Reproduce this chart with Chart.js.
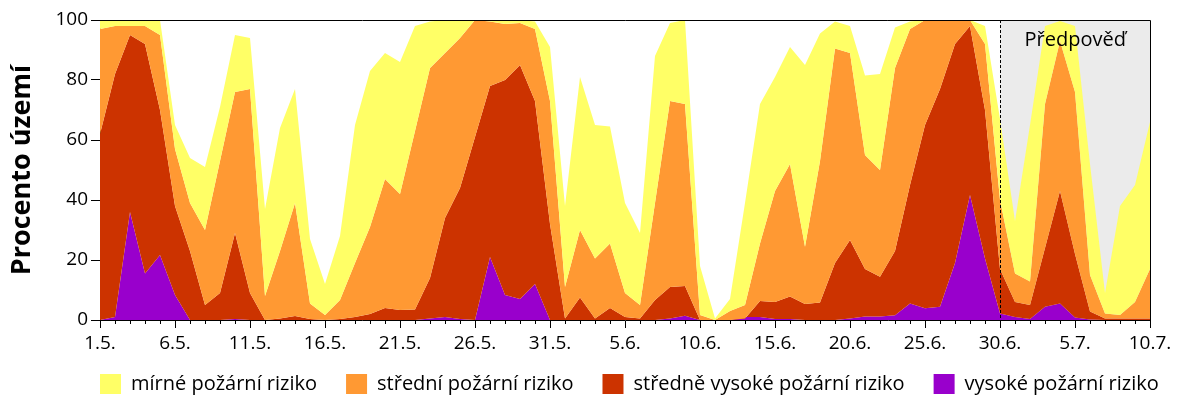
<!DOCTYPE html>
<html>
<head>
<meta charset="utf-8">
<script src="https://cdn.jsdelivr.net/npm/chart.js@4/dist/chart.umd.min.js"></script>
<style>
  html, body { margin: 0; padding: 0; background: #fff; }
  #wrap { width: 1200px; height: 400px; }
</style>
</head>
<body>
<div id="wrap"><canvas id="riziko"></canvas></div>
<script>
// x axis: days from 1.5. (index 0) to 10.7. (index 70)
const tickLabels = ["1.5.", "6.5.", "11.5.", "16.5.", "21.5.", "26.5.", "31.5.", "5.6.", "10.6.", "15.6.", "20.6.", "25.6.", "30.6.", "5.7.", "10.7."];
const forecastStart = 60; // 30.6.

// upper edge of each band (cumulative percent of territory), one value per day
const mirneTop = [100, 100, 100, 100, 100, 65, 54, 51, 71, 95, 94, 37, 64, 77, 27, 12, 28, 65, 83, 89,
  86, 98, 99.5, 100, 100, 100, 100, 100, 100, 99.5, 91, 38, 81, 65, 64.5, 39, 29, 88, 99, 100,
  18, 0.5, 7, 39, 72, 81, 91, 85, 95.5, 99.5, 98, 81.5, 82, 97.5, 99.5, 100, 100, 100, 100, 98,
  67, 33, 65, 98, 99.7, 98, 52, 9, 38, 45, 66];
const stredniTop = [97, 98, 98, 98, 95, 57, 39, 30, 53, 76, 77, 8, 23, 39, 5.5, 1.7, 6.7, 19, 31, 47,
  42, 63, 84, 89, 94, 100, 99.5, 98.7, 99, 97, 73, 11, 30, 20.5, 25.5, 9, 5, 39, 73, 72,
  1.7, 0, 3, 5, 25.5, 43, 52, 24.4, 53, 90.5, 89, 55, 50, 84, 97, 100, 100, 100, 100, 92,
  40, 15.5, 12.8, 72, 93, 76, 15, 2.2, 1.7, 6, 17];
const stredneVysokeTop = [62, 82, 95, 92, 70, 38, 23, 5, 9, 29, 9, 0, 0.5, 1.3, 0.3, 0, 0.3, 1, 2, 4,
  3.3, 3.5, 14, 34, 44, 61, 78, 80, 85, 73, 32, 0.5, 7.5, 0.5, 4, 1, 0.5, 6.7, 11, 11.3,
  0, 0, 0, 0.5, 6.3, 6, 7.8, 5.3, 5.8, 19, 26.7, 17, 14.4, 23, 45, 65, 77, 92, 98, 70,
  17, 6, 5, 24, 43, 22, 2.8, 0.5, 0.5, 0.5, 0.5];
const vysokeTop = [0, 1, 36, 15.5, 21.7, 8.3, 0, 0, 0, 0.3, 0, 0, 0, 0, 0, 0, 0, 0, 0, 0,
  0, 0, 0.5, 1, 0.3, 0, 21, 8.3, 7, 12, 0, 0, 0, 0, 0, 0, 0, 0, 0.5, 1.4,
  0, 0, 0, 1, 1, 0.3, 0.3, 0, 0, 0, 0.5, 1.2, 1.2, 1.6, 5.5, 3.9, 4.4, 19, 41.7, 20.5,
  2.2, 1, 0.3, 4.4, 5.5, 0.8, 0.2, 0, 0, 0, 0];

const fontName = "'Open Sans', 'Noto Sans', sans-serif";

const toPoints = arr => arr.map((v, i) => ({ x: i, y: v }));

const bands = [
  { label: "mírné požární riziko", data: mirneTop, color: "#FFFF66", fill: "+1" },
  { label: "střední požární riziko", data: stredniTop, color: "#FF9933", fill: "+1" },
  { label: "středně vysoké požární riziko", data: stredneVysokeTop, color: "#CC3300", fill: "+1" },
  { label: "vysoké požární riziko", data: vysokeTop, color: "#9900CC", fill: "origin" },
];

// grey forecast box, dashed divider, caption, frame and minor ticks
const forecastPlugin = {
  id: "forecast",
  afterLayout(chart) {
    // legend row starts under the y axis, a bit below the tick labels
    const lg = chart.legend;
    const pad = lg.options.labels.padding;
    const startX = (lg.left + pad + lg.right - lg.lineWidths[0]) / 2;
    const shift = chart.chartArea.left - startX;
    lg.left += shift;
    lg.right += shift;
    lg.top = chart.chartArea.bottom + 54 - pad;
    lg.bottom = chart.height;
    lg.height = lg.bottom - lg.top;
  },
  beforeDatasetsDraw(chart) {
    const { ctx, chartArea, scales } = chart;
    const x0 = scales.x.getPixelForValue(forecastStart);
    ctx.save();
    ctx.fillStyle = "#EBEBEB";
    ctx.fillRect(x0, chartArea.top, chartArea.right - x0, chartArea.bottom - chartArea.top);
    ctx.restore();
  },
  afterDatasetsDraw(chart) {
    const { ctx, chartArea, scales } = chart;
    const x0 = Math.round(scales.x.getPixelForValue(forecastStart)) + 0.5;
    ctx.save();
    ctx.strokeStyle = "#000";
    ctx.lineWidth = 1;
    ctx.setLineDash([3, 2]);
    ctx.beginPath();
    ctx.moveTo(x0, chartArea.top);
    ctx.lineTo(x0, chartArea.bottom);
    ctx.stroke();
    ctx.setLineDash([]);

    ctx.fillStyle = "#000";
    ctx.font = "20px " + fontName;
    ctx.textAlign = "center";
    ctx.textBaseline = "middle";
    ctx.fillText("Předpověď", (x0 + chartArea.right) / 2, chartArea.top + 20);

    // frame top and right
    ctx.beginPath();
    ctx.moveTo(chartArea.left, chartArea.top + 0.5);
    ctx.lineTo(chartArea.right + 0.5, chartArea.top + 0.5);
    ctx.lineTo(chartArea.right + 0.5, chartArea.bottom);
    ctx.stroke();

    // minor day ticks
    for (let i = 0; i <= 70; i++) {
      if (i % 5 === 0) continue;
      const x = Math.round(scales.x.getPixelForValue(i)) + 0.5;
      ctx.beginPath();
      ctx.moveTo(x, chartArea.bottom);
      ctx.lineTo(x, chartArea.bottom + 4);
      ctx.stroke();
    }
    ctx.restore();
  },
};

new Chart(document.getElementById("riziko"), {
  type: "line",
  data: {
    datasets: bands.map(b => ({
      label: b.label,
      data: toPoints(b.data),
      backgroundColor: b.color,
      borderColor: b.color,
      borderWidth: 0,
      pointRadius: 0,
      tension: 0,
      fill: b.fill,
    })),
  },
  options: {
    responsive: true,
    maintainAspectRatio: false,
    animation: false,
    events: [],
    layout: { padding: { left: 0, right: 50, top: 20, bottom: 0 } },
    scales: {
      x: {
        type: "linear",
        min: 0,
        max: 70,
        afterFit: s => { s.height = 46; },
        border: { color: "#000", width: 1 },
        grid: { drawOnChartArea: false, tickLength: 8, tickColor: "#000" },
        ticks: {
          stepSize: 5,
          autoSkip: false,
          maxRotation: 0,
          padding: 4,
          color: "#000",
          font: { family: fontName, size: 19 },
          callback: v => tickLabels[v / 5] ?? "",
        },
      },
      y: {
        min: 0,
        max: 100,
        afterFit: s => { s.width = 100; },
        border: { color: "#000", width: 1 },
        grid: { drawOnChartArea: false, tickLength: 9, tickColor: "#000" },
        ticks: {
          stepSize: 20,
          padding: 3,
          color: "#000",
          font: { family: fontName, size: 19 },
        },
        title: {
          display: true,
          text: "Procento území",
          color: "#000",
          font: { family: fontName, size: 27, weight: "bold" },
          padding: { top: 6, bottom: 0 },
        },
      },
    },
    plugins: {
      legend: {
        position: "bottom",
        maxHeight: 34,
        labels: {
          color: "#000",
          boxWidth: 21,
          boxHeight: 20,
          padding: 29,
          font: { family: fontName, size: 20 },
        },
      },
      tooltip: { enabled: false },
    },
  },
  plugins: [forecastPlugin],
});
</script>
</body>
</html>
